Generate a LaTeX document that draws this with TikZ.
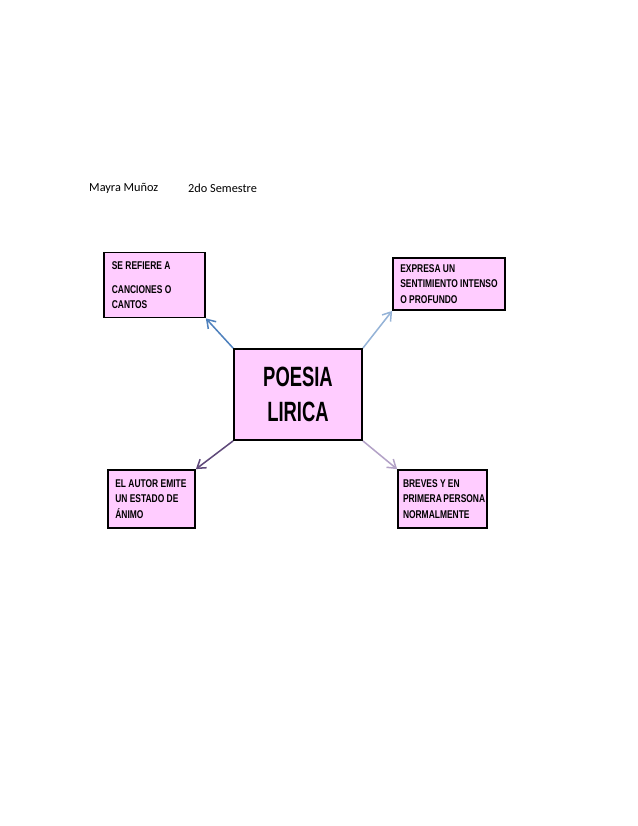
\documentclass[tikz,border=0pt]{standalone}
\usepackage{fontspec}
\setmainfont{Carlito}
\newfontfamily\cajafont[FakeStretch=0.75]{Liberation Sans}
\newfontfamily\titulofont[FakeStretch=0.66]{Liberation Sans}
\newcommand\sincorte{\hyphenpenalty=10000\relax\hbadness=10000\relax\hfuzz=20pt\relax}
\usetikzlibrary{arrows.meta}
\definecolor{rosa}{HTML}{FFCCFF}
\definecolor{azul1}{HTML}{4F81BD}
\definecolor{azul2}{HTML}{95B3D7}
\definecolor{morado1}{HTML}{5F497A}
\definecolor{morado2}{HTML}{B3A2C7}
\begin{document}
\begin{tikzpicture}[x=0.03cm, y=-0.03cm,
  caja/.style={draw=black, line width=1.5pt, fill=rosa, inner xsep=0.22cm, align=flush left,
    font=\cajafont\bfseries\fontsize{9.6}{13.2}\selectfont\sincorte},
  flecha/.style={-{Straight Barb[length=2.4mm, width=3.2mm]}, line width=1.3pt}]
\useasboundingbox (0,0) rectangle (638,826);
% encabezado
\node[anchor=west, font=\fontsize{10.5}{12}\selectfont, inner sep=0] (nombre) at (89,188) {Mayra Muñoz};
\node[anchor=west, font=\fontsize{10.5}{12}\selectfont, inner sep=0] (semestre) at (188,188) {2do Semestre};
% cajas
\node[caja, minimum width=3.84cm, minimum height=2.73cm, align=center,
  font=\titulofont\bfseries\fontsize{23.8}{30}\selectfont] (poesia) at (298,394.5) {POESIA\\LIRICA};
\node[caja, minimum width=3.03cm, minimum height=1.95cm, text width=2.56cm] (refiere) at (154.5,285) {SE REFIERE A\\[7.5pt]CANCIONES O\\CANTOS};
\node[caja, minimum width=3.36cm, minimum height=1.56cm, text width=2.92cm] (expresa) at (449,284) {EXPRESA UN\\SENTIMIENTO~INTENSO\\O PROFUNDO};
\node[caja, minimum width=2.61cm, minimum height=1.74cm, text width=2.17cm] (autor) at (151.5,499) {EL AUTOR EMITE\\UN ESTADO DE\\ÁNIMO};
\node[caja, minimum width=2.67cm, minimum height=1.74cm, inner xsep=0.15cm, text width=2.37cm] (breves) at (442.5,499) {BREVES Y EN\\PRIMERA~PERSONA\\NORMALMENTE};
% flechas
\draw[flecha, azul1] (poesia.north west) -- (refiere.south east);
\draw[flecha, azul2] (poesia.north east) -- (expresa.south west);
\draw[flecha, morado1] (poesia.south west) -- (autor.north east);
\draw[flecha, morado2] (poesia.south east) -- (breves.north west);
\end{tikzpicture}
\end{document}
